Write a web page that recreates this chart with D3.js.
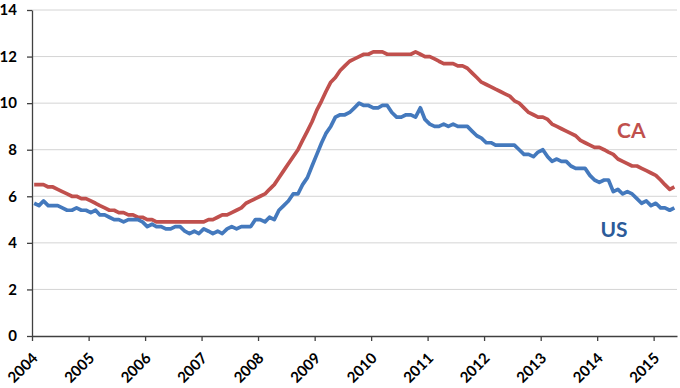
<!DOCTYPE html>
<html>
<head>
<meta charset="utf-8">
<script src="https://cdn.jsdelivr.net/npm/d3@7/dist/d3.min.js"></script>
<style>
  body { margin: 0; background: #fff; }
  text { font-family: Lato, "Open Sans", sans-serif; font-weight: bold; }
</style>
</head>
<body>
<div id="chart"></div>
<script>
// unemployment rate, monthly, Jan 2004 - May 2015
var years = [2004, 2005, 2006, 2007, 2008, 2009, 2010, 2011, 2012, 2013, 2014, 2015];
var yTicks = [0, 2, 4, 6, 8, 10, 12, 14];
var seriesNames = ["CA", "US"];

var caRate = [
  6.5, 6.5, 6.5, 6.4, 6.4, 6.3, 6.2, 6.1, 6.0, 6.0, 5.9, 5.9,
  5.8, 5.7, 5.6, 5.5, 5.4, 5.4, 5.3, 5.3, 5.2, 5.2, 5.1, 5.1,
  5.0, 5.0, 4.9, 4.9, 4.9, 4.9, 4.9, 4.9, 4.9, 4.9, 4.9, 4.9,
  4.9, 5.0, 5.0, 5.1, 5.2, 5.2, 5.3, 5.4, 5.5, 5.7, 5.8, 5.9,
  6.0, 6.1, 6.3, 6.5, 6.8, 7.1, 7.4, 7.7, 8.0, 8.4, 8.8, 9.2,
  9.7, 10.1, 10.5, 10.9, 11.1, 11.4, 11.6, 11.8, 11.9, 12.0, 12.1, 12.1,
  12.2, 12.2, 12.2, 12.1, 12.1, 12.1, 12.1, 12.1, 12.1, 12.2, 12.1, 12.0,
  12.0, 11.9, 11.8, 11.7, 11.7, 11.7, 11.6, 11.6, 11.5, 11.3, 11.1, 10.9,
  10.8, 10.7, 10.6, 10.5, 10.4, 10.3, 10.1, 10.0, 9.8, 9.6, 9.5, 9.4,
  9.4, 9.3, 9.1, 9.0, 8.9, 8.8, 8.7, 8.6, 8.4, 8.3, 8.2, 8.1,
  8.1, 8.0, 7.9, 7.8, 7.6, 7.5, 7.4, 7.3, 7.3, 7.2, 7.1, 7.0,
  6.9, 6.7, 6.5, 6.3, 6.4
];

var usRate = [
  5.7, 5.6, 5.8, 5.6, 5.6, 5.6, 5.5, 5.4, 5.4, 5.5, 5.4, 5.4,
  5.3, 5.4, 5.2, 5.2, 5.1, 5.0, 5.0, 4.9, 5.0, 5.0, 5.0, 4.9,
  4.7, 4.8, 4.7, 4.7, 4.6, 4.6, 4.7, 4.7, 4.5, 4.4, 4.5, 4.4,
  4.6, 4.5, 4.4, 4.5, 4.4, 4.6, 4.7, 4.6, 4.7, 4.7, 4.7, 5.0,
  5.0, 4.9, 5.1, 5.0, 5.4, 5.6, 5.8, 6.1, 6.1, 6.5, 6.8, 7.3,
  7.8, 8.3, 8.7, 9.0, 9.4, 9.5, 9.5, 9.6, 9.8, 10.0, 9.9, 9.9,
  9.8, 9.8, 9.9, 9.9, 9.6, 9.4, 9.4, 9.5, 9.5, 9.4, 9.8, 9.3,
  9.1, 9.0, 9.0, 9.1, 9.0, 9.1, 9.0, 9.0, 9.0, 8.8, 8.6, 8.5,
  8.3, 8.3, 8.2, 8.2, 8.2, 8.2, 8.2, 8.0, 7.8, 7.8, 7.7, 7.9,
  8.0, 7.7, 7.5, 7.6, 7.5, 7.5, 7.3, 7.2, 7.2, 7.2, 6.9, 6.7,
  6.6, 6.7, 6.7, 6.2, 6.3, 6.1, 6.2, 6.1, 5.9, 5.7, 5.8, 5.6,
  5.7, 5.5, 5.5, 5.4, 5.5
];

var width = 680, height = 388;
var plotLeft = 32, plotRight = 677, plotTop = 10, plotBottom = 336;

var svg = d3.select('#chart').append('svg').attr('width', width).attr('height', height);

var x = d3.scaleTime()
  .domain([new Date(2004, 0, 1), new Date(2015, 5, 1)])
  .range([plotLeft, plotRight]);
var y = d3.scaleLinear().domain([0, 14]).range([plotBottom, plotTop]);

function monthDate(i) {
  return new Date(2004, i, 15);
}

// gridlines
svg.append('g')
  .selectAll('line')
  .data(yTicks.filter(function(d) { return d > 0; }))
  .enter()
  .append('line')
  .attr('x1', plotLeft).attr('x2', plotRight)
  .attr('y1', function(d) { return y(d); })
  .attr('y2', function(d) { return y(d); })
  .attr('stroke', '#d4d4d4')
  .attr('stroke-width', 1);

// y axis
var yAxis = svg.append('g')
  .attr('transform', 'translate(' + plotLeft + ',0)')
  .call(d3.axisLeft(y).tickValues(yTicks).tickSize(5).tickSizeOuter(0).tickPadding(10));
yAxis.attr('font-size', null).attr('font-family', null);
yAxis.selectAll('text').style('font-size', '15px').attr('fill', '#000');

// x axis
var xAxis = svg.append('g')
  .attr('transform', 'translate(0,' + plotBottom + ')')
  .call(d3.axisBottom(x)
    .tickValues(years.map(function(yr) { return new Date(yr, 0, 1); }))
    .tickFormat(d3.timeFormat('%Y'))
    .tickSize(5).tickSizeOuter(0));
xAxis.attr('font-size', null).attr('font-family', null);
xAxis.selectAll('text')
  .style('font-size', '15px')
  .attr('fill', '#000')
  .attr('text-anchor', 'end')
  .attr('x', 0).attr('y', 0).attr('dy', '0.35em')
  .attr('transform', 'translate(2.5,19.5) rotate(-45)');

svg.selectAll('.domain, .tick line').attr('stroke', '#404040').attr('stroke-width', 1.3);

// lines
var line = d3.line()
  .x(function(d, i) { return x(monthDate(i)); })
  .y(function(d) { return y(d); });

svg.append('path')
  .datum(caRate)
  .attr('d', line)
  .attr('fill', 'none')
  .attr('stroke', '#c0504d')
  .attr('stroke-width', 3.7)
  .attr('stroke-linejoin', 'round');

svg.append('path')
  .datum(usRate)
  .attr('d', line)
  .attr('fill', 'none')
  .attr('stroke', '#4479bd')
  .attr('stroke-width', 3.7)
  .attr('stroke-linejoin', 'round');

// series labels
svg.append('text')
  .attr('x', x(new Date(2014, 7, 10)))
  .attr('y', y(8.8))
  .attr('dy', '0.35em')
  .attr('text-anchor', 'middle')
  .style('font-size', '21px')
  .attr('fill', '#c0504d')
  .text(seriesNames[0]);

svg.append('text')
  .attr('x', x(new Date(2014, 3, 20)))
  .attr('y', y(4.55))
  .attr('dy', '0.35em')
  .attr('text-anchor', 'middle')
  .style('font-size', '21px')
  .attr('fill', '#2c5b99')
  .text(seriesNames[1]);
</script>
</body>
</html>
